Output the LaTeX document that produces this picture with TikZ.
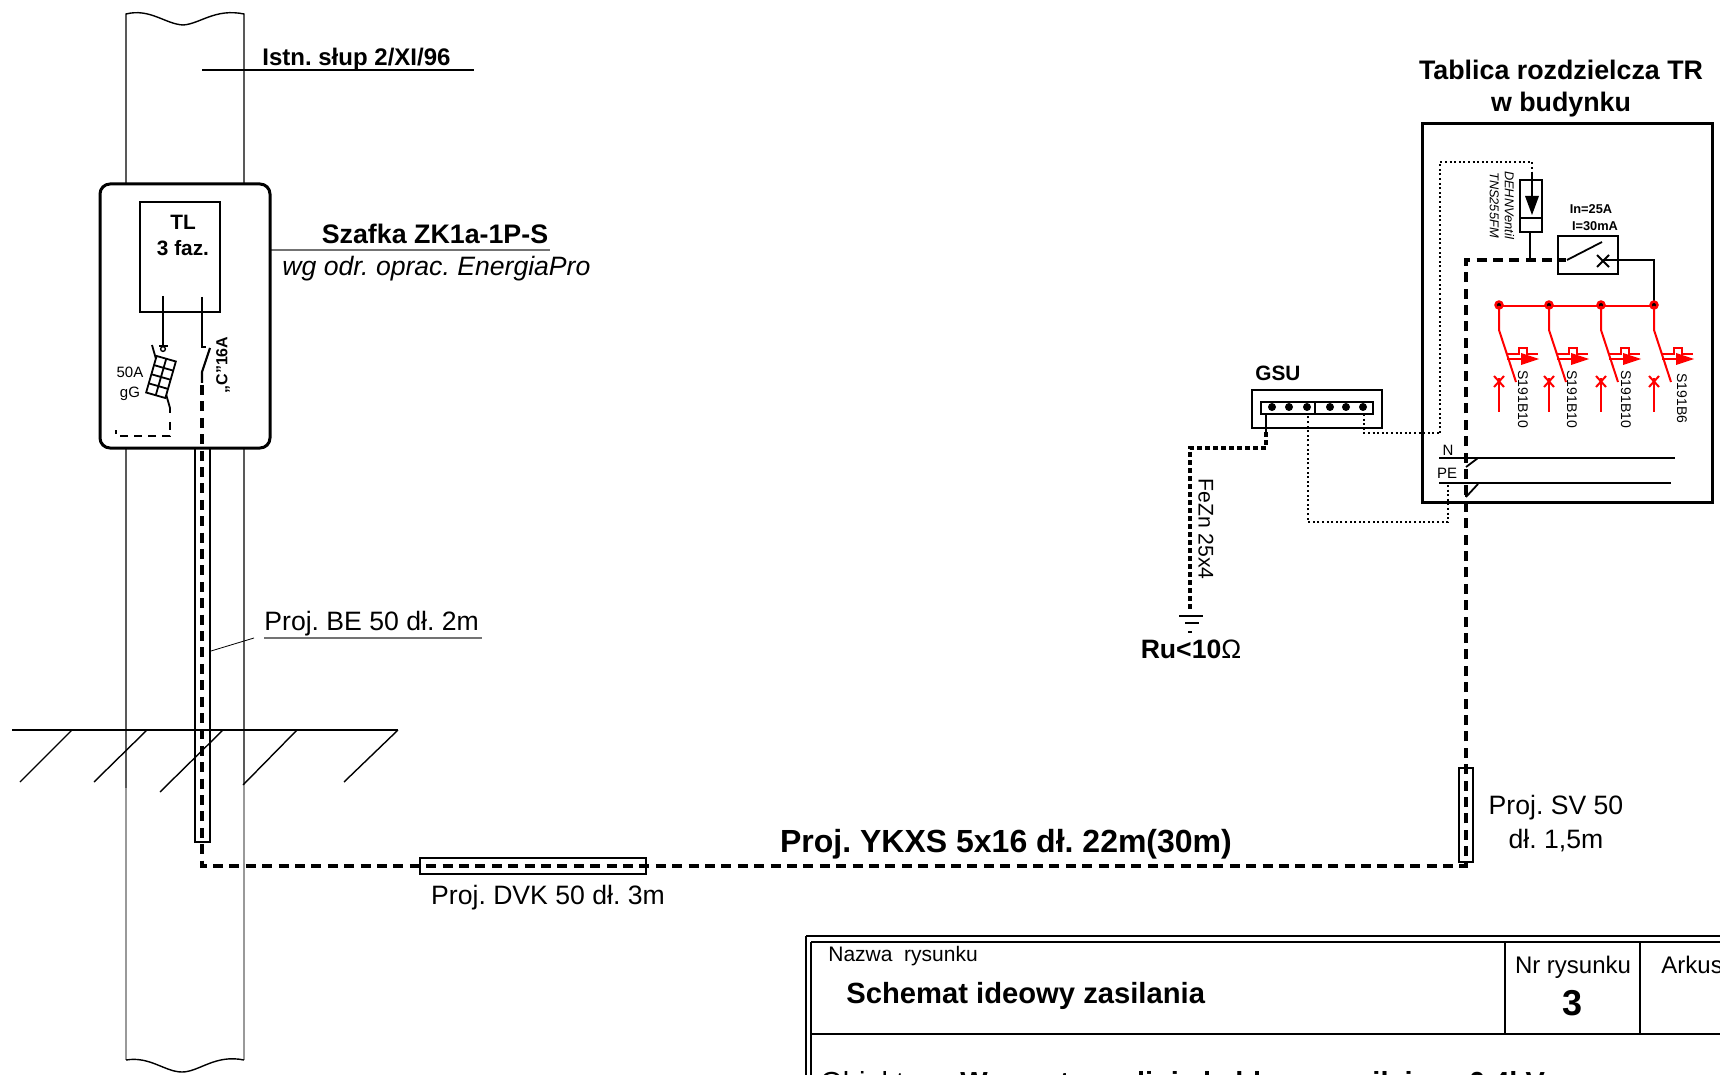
\documentclass[tikz,border=0pt]{standalone}
\usepackage{fontspec}
\setmainfont{Liberation Sans}
\usetikzlibrary{calc}
\frenchspacing
\tikzset{
    pole/.style={line width=0.7pt},
    polefaint/.style={line width=0.6pt,black!40},
    cable/.style={line width=1.6pt,dash pattern=on 5pt off 3.2pt},
    strip/.style={line width=0.9pt,dash pattern=on 1pt off 1.3pt},
    earthline/.style={line width=1.6pt,dash pattern=on 2.5pt off 1.5pt},
    pipe/.style={draw,line width=0.9pt,fill=none},
    wire/.style={line width=0.9pt},
    frame/.style={line width=1.5pt},
    redwire/.style={red,line width=1pt},
    lead/.style={line width=0.6pt,black!55},
    pin/.style={circle,fill,inner sep=0pt,minimum size=4pt},
    lbl/.style={inner sep=0pt,font=\fontsize{13.3}{15}\selectfont},
    tiny/.style={inner sep=0pt,font=\fontsize{7}{9}\selectfont},
}
% one red breaker with its trip mark, #1 = x, #2 = node name, #3 = text, #4 = text x, #5 = text y
\newcommand{\breakerm}[5]{%
    \fill[red] (#1,305) circle (2.4pt);
    \fill (#1,305) circle (1pt);
    \draw[redwire] (#1,306) -- (#1,330) -- (#1+17,382);
    \draw[redwire] (#1+8,354) -- (#1+20,354) -- (#1+20,348) -- (#1+28,348) -- (#1+28,354) -- (#1+39,354);
    \draw[redwire] (#1+8,359) -- (#1+24,359);
    \fill[red] (#1+22,353) -- (#1+40,359) -- (#1+22,365) -- cycle;
    \draw[redwire] (#1,412) -- (#1,378);
    \draw[redwire] (#1-5,376) -- (#1+5,387) (#1+5,376) -- (#1-5,387);
    \node[tiny,rotate=-90,anchor=west] (#2) at (#4,#5) {#3};
}
\begin{document}
\begin{tikzpicture}[x=0.5pt,y=-0.5pt]
    \useasboundingbox (0,0) rectangle (1720,1075);

    % Pole
    \draw[pole] (126,788) -- (126,14) .. controls (150,8) and (165,24) .. (183,25)
        .. controls (200,24) and (215,8) .. (244,14) -- (244,785);
    \draw[polefaint] (126,788) -- (126,1060) (244,785) -- (244,1060);
    \draw[pole] (126,1060) .. controls (150,1056) and (165,1072) .. (182,1072)
        .. controls (199,1072) and (215,1054) .. (244,1060);

    % Ground
    \draw[wire] (12,730) -- (398,730);
    \foreach \xa/\xb/\ya in {72/20/782,147/94/782,223/160/792,297/243/785,398/344/782}
        \draw[line width=0.7pt] (\xa,730) -- (\xb,\ya);

    % Leaders
    \draw[wire] (202,70) -- (474,70);
    \node[lbl,font=\fontsize{12}{14}\selectfont\bfseries,anchor=base west] (slup) at (262,66) {Istn. słup 2/XI/96};
    \draw[lead] (270,250) -- (550,250);
    \node[lbl,font=\fontsize{13.4}{15}\selectfont\bfseries,anchor=base] (szafka) at (435,244) {Szafka ZK1a-1P-S};
    \node[lbl,font=\fontsize{13.3}{15}\selectfont\itshape,anchor=base west] (odr) at (282,276) {wg odr. oprac. EnergiaPro};
    \draw[lead] (264,638) -- (482,638);
    \draw[line width=0.4pt] (211,651) -- (254,638);
    \node[lbl,anchor=base west] (be) at (264,630) {Proj. BE 50 dł. 2m};

    % Cabinet
    \draw[frame,fill=white,rounded corners=5pt] (100,184) rectangle (270,448);
    \draw[wire] (140,202) rectangle (220,312);
    \node[lbl,font=\fontsize{10.4}{12}\selectfont\bfseries,align=center,anchor=north] (tl) at (183,215) {TL\\[1pt]3 faz.};
    \draw[wire] (163,296) -- (163,346);
    \draw[wire] (159,346) -- (168,346);
    \draw[line width=0.7pt] (163,349) circle (1.2pt);
    \draw[wire] (152,345) -- (170,408) -- (170,413);
    \draw[wire,fill=white,rotate around={-16:(161,377)}] (151,358) rectangle (171,396);
    \draw[wire,rotate around={-16:(161,377)}] (161,358) -- (161,396) (151,367.5) -- (171,367.5) (151,377) -- (171,377) (151,386.5) -- (171,386.5);
    \draw[wire,dash pattern=on 4pt off 3pt] (170,422) -- (170,436) -- (116,436) -- (116,430);
    \node[tiny,font=\fontsize{7.5}{10}\selectfont,align=center,anchor=center] (fuse) at (130,384) {50A\\gG};
    \draw[line width=1.1pt] (202,297) -- (202,347) -- (206,347);
    \draw[line width=1.1pt] (210,348) -- (202,372) -- (202,383);
    \node[tiny,font=\fontsize{8}{10}\selectfont\bfseries,rotate=90,anchor=center] (cza) at (223,365) {„C”16A};

    % Cables
    \draw[cable] (202,385) -- (202,866) -- (1466,866) -- (1466,260) -- (1566,260);
    \draw[pipe] (195,448) rectangle (210,842);
    \draw[pipe] (420,858) rectangle (646,874);
    \draw[pipe] (1459,768) rectangle (1473,862);
    \node[lbl,font=\fontsize{16}{18}\selectfont\bfseries,anchor=base] (ykxs) at (1006,852) {Proj. YKXS 5x16 dł. 22m(30m)};
    \node[lbl,anchor=base] (dvk) at (548,904) {Proj. DVK 50 dł. 3m};
    \node[lbl,align=center,anchor=north] (sv) at (1556,795) {Proj. SV 50\\[2pt]dł. 1,5m};

    % Board
    \node[lbl,font=\fontsize{13.4}{16}\selectfont\bfseries,align=center,anchor=north] (tablica) at (1561,60) {Tablica rozdzielcza TR\\[0pt]w budynku};
    \draw[frame] (1422,124) rectangle (1712,502);
    \draw[strip] (1440,433) -- (1440,162) -- (1532,162) -- (1532,180);
    \draw[strip] (1364,414) -- (1364,433) -- (1440,433);
    \draw[wire] (1520,180) rectangle (1542,232);
    \draw[wire] (1520,218) -- (1542,218);
    \draw[wire] (1532,172) -- (1532,199);
    \fill (1525,196) -- (1539,196) -- (1532,215) -- cycle;
    \draw[line width=1.3pt] (1530,232) -- (1530,260);
    \node[tiny,font=\fontsize{6.4}{7.5}\selectfont\itshape,rotate=-90,align=center,anchor=center] (dehn) at (1502,205) {DEHNVentil\\TNS255FM};
    \draw[wire] (1558,236) rectangle (1618,274);
    \draw[wire] (1567,260) -- (1602,242);
    \draw[wire] (1597,255) -- (1609,267) (1609,255) -- (1597,267);
    \draw[wire] (1603,260) -- (1654,260) -- (1654,304);
    \node[tiny,font=\fontsize{6.4}{8}\selectfont\bfseries,anchor=base] (in) at (1591,214) {In=25A};
    \node[tiny,font=\fontsize{6.4}{8}\selectfont\bfseries,anchor=base] (iz) at (1595,231) {I=30mA};
    \draw[redwire] (1499,306) -- (1654,306);
    \breakerm{1499}{brka}{S191B10}{1523}{370}
    \breakerm{1549}{brkb}{S191B10}{1572}{370}
    \breakerm{1601}{brkc}{S191B10}{1626}{370}
    \breakerm{1654}{brkd}{S191B6}{1682}{373}

    % Busbars
    \draw[line width=1.2pt] (1439,458) -- (1675,458) (1439,483) -- (1671,483);
    \draw[wire] (1466,467) -- (1478,458) (1466,497) -- (1478,484);
    \draw[line width=1.2pt] (1466,487) -- (1466,497);
    \node[tiny,font=\fontsize{7.5}{9}\selectfont,anchor=base] (n) at (1448,455) {N};
    \node[tiny,font=\fontsize{7.5}{9}\selectfont,anchor=base] (pe) at (1447,479) {PE};
    \draw[strip] (1448,485) -- (1448,522) -- (1308,522) -- (1308,414);

    % GSU
    \node[lbl,font=\fontsize{10.4}{12}\selectfont\bfseries,anchor=base west] (gsu) at (1255,380) {GSU};
    \draw[wire] (1252,390) rectangle (1382,428);
    \draw[line width=1.4pt] (1261,402) rectangle (1373,414) (1315,402) -- (1315,414);
    \foreach \xg in {1272,1289,1307,1330,1346,1363}
        \node[pin] (g\xg) at (\xg,407) {};
    \draw[line width=1.2pt] (1266,414) -- (1266,432);
    \draw[earthline] (1266,432) -- (1266,448) -- (1190,448) -- (1190,612);
    \draw[line width=1.2pt] (1179,616) -- (1203,616);
    \draw[line width=1.2pt] (1185,623) -- (1199,623);
    \draw[line width=1.2pt] (1188,632) -- (1192,632);
    \node[lbl,font=\fontsize{10.6}{11}\selectfont,rotate=-90,anchor=center] (fezn) at (1206,529) {FeZn 25x4};
    \node[lbl,font=\fontsize{13.3}{15}\selectfont\bfseries,anchor=base] (ru) at (1191,658) {Ru<10{\normalfont Ω}};

    % Title block
    \draw[line width=0.7pt] (806,936) -- (1720,936) (806,936) -- (806,1075);
    \draw[line width=1.2pt] (811,942) -- (1720,942) (811,942) -- (811,1075);
    \draw[line width=1.2pt] (811,1034) -- (1720,1034);
    \draw[wire] (1505,942) -- (1505,1034) (1640,942) -- (1640,1034);
    \node[lbl,font=\fontsize{10.5}{12}\selectfont,anchor=base west] (nazwa) at (828,961) {Nazwa\ \ rysunku};
    \node[lbl,font=\fontsize{14.6}{18}\selectfont\bfseries,anchor=base west] (schemat) at (846,1003) {Schemat ideowy zasilania};
    \node[lbl,font=\fontsize{12}{14}\selectfont,anchor=base] (nrr) at (1573,973) {Nr rysunku};
    \node[lbl,font=\fontsize{18}{22}\selectfont\bfseries,anchor=base] (nr) at (1572,1015) {3};
    \begin{scope}
        \clip (0,0) rectangle (1720,1075);
        \node[lbl,font=\fontsize{12}{14}\selectfont,anchor=base west] (arkusz) at (1661,973) {Arkusz};
        \node[lbl,font=\fontsize{14.5}{16}\selectfont,anchor=base west] (obiekt) at (820,1092) {Obiekt :};
        \node[lbl,font=\fontsize{14.5}{16}\selectfont\bfseries,anchor=base west] (linia) at (960,1092) {Wewnętrzna linia kablowa zasilająca 0,4kV};
    \end{scope}
\end{tikzpicture}
\end{document}
